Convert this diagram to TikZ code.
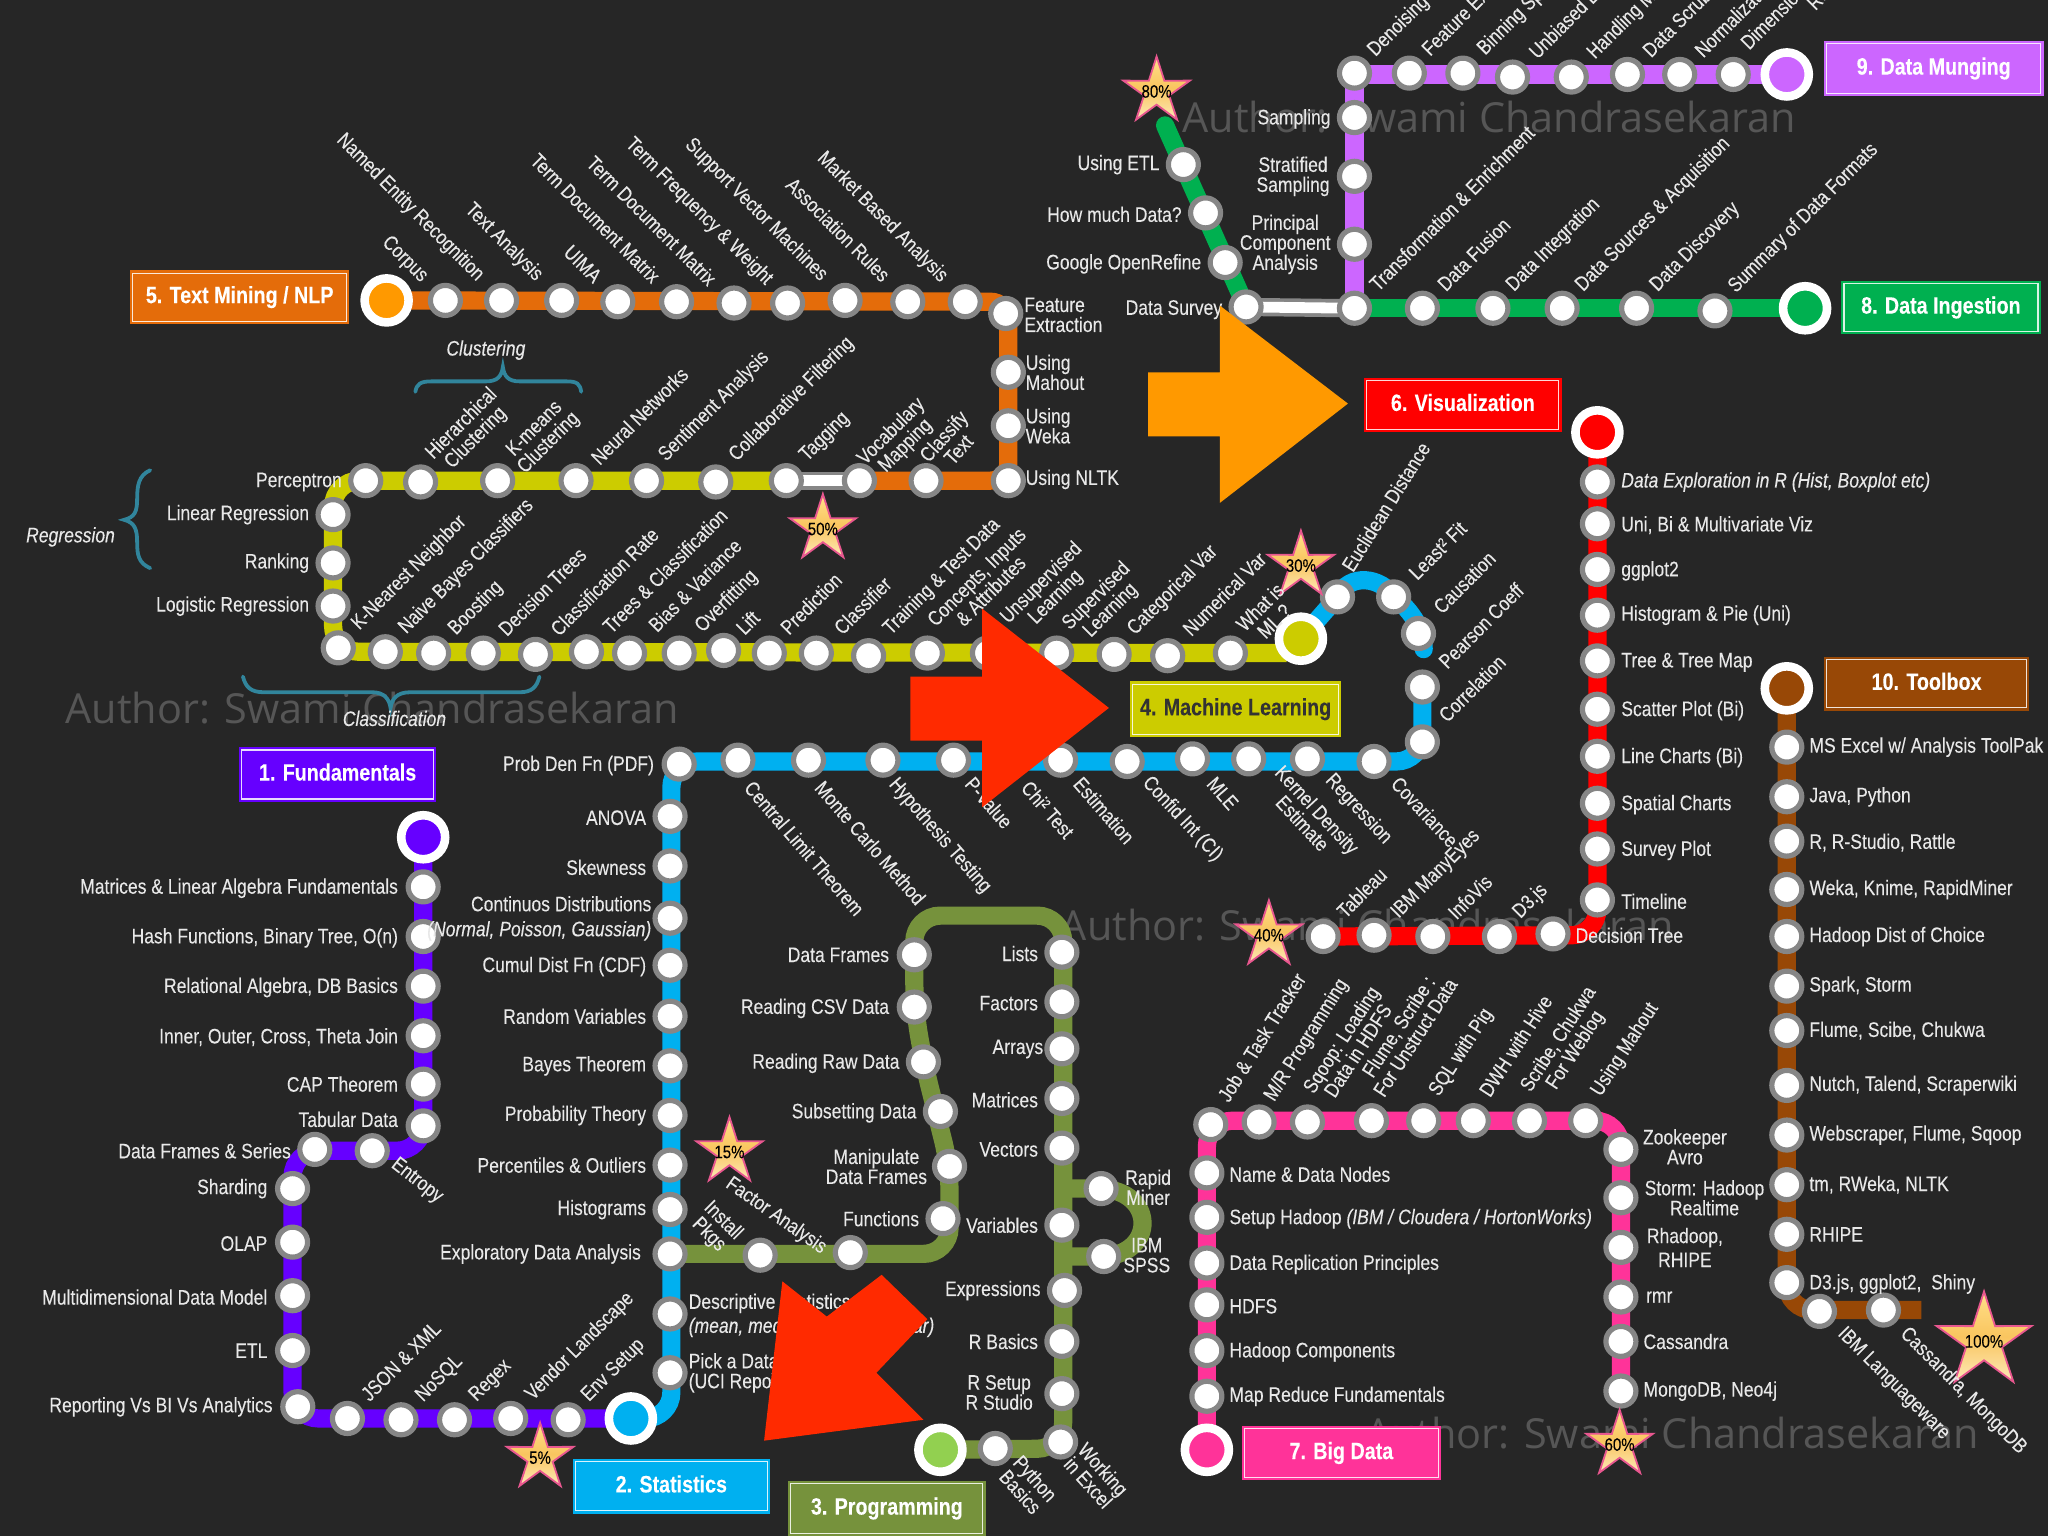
\documentclass[tikz,border=0pt]{standalone}
\usepackage{fontspec}
\setmainfont[FakeStretch=0.835,FakeBold=0.12]{Liberation Sans}
\newfontfamily\wmfont{Open Sans}
\usetikzlibrary{shapes.geometric,backgrounds}
\pgfdeclarelayer{wm}
\pgfdeclarelayer{rails}
\pgfsetlayers{wm,rails,main}
\definecolor{bgc}{HTML}{262626}
\definecolor{txtc}{HTML}{E8E8E8}
\definecolor{wmc}{HTML}{565656}
\definecolor{orangeL}{HTML}{E46C0A}
\definecolor{orangeT}{HTML}{FF9900}
\definecolor{yellowL}{HTML}{CCCC00}
\definecolor{blueL}{HTML}{00B0F0}
\definecolor{purpleL}{HTML}{6600FF}
\definecolor{oliveL}{HTML}{76923C}
\definecolor{oliveT}{HTML}{92D050}
\definecolor{greenL}{HTML}{00B050}
\definecolor{lilacL}{HTML}{CC66FF}
\definecolor{redL}{HTML}{FF0000}
\definecolor{pinkL}{HTML}{FF3399}
\definecolor{brownL}{HTML}{984806}
\definecolor{braceC}{HTML}{31859C}
\definecolor{arrowR}{HTML}{FF2A00}
\definecolor{starTop}{HTML}{FFE08A}
\definecolor{starMid}{HTML}{F9C55F}
\definecolor{starBot}{HTML}{FDE9B8}
\definecolor{starEdge}{HTML}{E8578F}
\newcounter{labc}
\tikzset{
  station/.style={circle,draw=gray!95,fill=white,line width=2.6pt,minimum size=15pt,inner sep=0pt},
  terminal/.style={circle,draw=white,fill=#1,line width=4.3pt,minimum size=22pt,inner sep=0pt},
  rail/.style={draw=#1,line width=9.1pt},
  linkO/.style={draw=gray!95,line width=9.1pt},
  linkI/.style={draw=white,line width=5.4pt},
  lab/.style={text=txtc,inner sep=0pt,font=\fontsize{10.5}{10}\selectfont,align=center},
  rlab/.style={lab,font=\fontsize{10.3}{10}\selectfont},
  lbox/.style={fill=#1,preaction={draw=#1,line width=2.8pt},draw=white!85!#1,line width=.6pt,text=white,inner sep=0pt,
    text height=8.5pt,text depth=2.5pt,font=\fontsize{11.8}{13}\selectfont\bfseries},
  pct/.style={star,star points=5,star point ratio=2.65,inner sep=0pt,draw=starEdge,line width=.9pt,
    top color=starTop,bottom color=starBot,middle color=starMid,minimum size=#1},
  pctt/.style={text=black,inner sep=0pt,font=\fontsize{9}{9}\selectfont},
  brace/.style={draw=braceC,line width=1.9pt,line cap=round},
  wmark/.style={text=wmc,inner sep=0pt,font=\wmfont\fontsize{20.7}{22}\selectfont}
}
\newcommand\labE[3]{\stepcounter{labc}\node[lab,anchor=east,align=right,yshift=-.7pt] (lab\thelabc) at (#1,#2) {#3};}
\newcommand\labW[3]{\stepcounter{labc}\node[lab,anchor=west,align=left,yshift=-.7pt] (lab\thelabc) at (#1,#2) {#3};}
\newcommand\labC[3]{\stepcounter{labc}\node[lab,yshift=-.7pt] (lab\thelabc) at (#1,#2) {#3};}
\newcommand\labR[4]{\stepcounter{labc}\node[rlab,anchor=west,rotate=#1] (lab\thelabc) at (#2,#3) {#4};}
\newcommand\labF[4]{\stepcounter{labc}\node[rlab,anchor=east,rotate=#1] (lab\thelabc) at (#2,#3) {#4};}
\newcommand\labM[4]{\stepcounter{labc}\node[rlab,rotate=#1] (lab\thelabc) at (#2,#3) {#4};}
\newcommand\pctstar[4]{\node[pct=#3] (star#4) at (#1,#2) {};\node[pctt] (startxt#4) at (#1,#2) {#4\%};}
\begin{document}
\begin{tikzpicture}[x=0.653061pt,y=-0.653061pt]
\useasboundingbox (0,0) rectangle (1568,1176);
\clip (0,0) rectangle (1568,1176);

% background and watermarks
\begin{pgfonlayer}{wm}
\fill[bgc] (0,0) rectangle (1568,1176);
\node[wmark,anchor=west] (wm1) at (905,90) {Author: Swami Chandrasekaran};
\node[wmark,anchor=west] (wm2) at (50,542) {Author: Swami Chandrasekaran};
\node[wmark,anchor=west] (wm3) at (812,708) {Author: Swami Chandrasekaran};
\node[wmark,anchor=west] (wm4) at (1045,1097) {Author: Swami Chandrasekaran};
\end{pgfonlayer}

% terminals
\node[terminal=purpleL] (T1) at (324,641) {};
\node[terminal=blueL] (T2) at (483,1086) {};
\node[terminal=oliveT] (T3) at (720,1110) {};
\node[terminal=yellowL] (T4) at (996,489) {};
\node[terminal=orangeT] (T5) at (296,230) {};
\node[terminal=redL] (T6) at (1223,331) {};
\node[terminal=pinkL] (T7) at (924,1110) {};
\node[terminal=greenL] (T8) at (1382,236) {};
\node[terminal=lilacL] (T9) at (1368,57) {};
\node[terminal=brownL] (T10) at (1368,527) {};

% stations
\foreach \n/\x/\y in {
 f1/324/679,f2/324/717,f3/324/755,f4/324/793,f5/324/830,f6/324/862,f7/285/881,f8/241/880,f9/224/910,f10/224/951,f11/224/992,f12/224/1034,f13/228/1077,f14/266/1086,f15/307/1087,f16/348/1087,f17/391/1086,f18/435/1087,
 s1/520/585,s2/565/582,s3/619/582,s4/676/582,s5/730/582,s6/812/582,s7/863/583,s8/913/581,s9/956/581,s10/1001/581,s11/1052/583,s12/1089/568,s13/1089/526,
 s20/513/625,s21/513/663,s22/513/703,s23/513/739,s24/513/778,s25/513/816,s26/513/854,s27/513/892,s28/513/926,s29/513/960,s30/513/1006,s31/513/1051,
 g1/582/961,g2/651/959,g3/722/933,g4/727/893,g5/720/851,g6/707/813,g7/700/771,g8/700/731,
 g9/813/729,g10/813/767,g11/813/803,g12/813/841,g13/813/879,g14/813/938,g15/815/988,g16/813/1027,g17/813/1067,g18/812/1104,g19/762/1109,g20/843/910,g21/845/962,
 o1/341/230,o2/384/230,o3/430/230,o4/473/231,o5/518/231,o6/562/232,o7/603/232,o8/647/230,o9/695/231,o10/739/231,o11/770/240,o12/772/285,o13/772/326,o14/772/368,o15/709/368,o16/658/368,
 y1/602/368,y2/548/369,y3/495/368,y4/441/368,y5/381/368,y6/322/369,y7/280/368,y8/255/394,y9/255/431,y10/255/464,y11/259/496,y12/295/499,y13/332/500,y14/370/500,y15/410/501,y16/449/499,y17/482/500,y18/520/500,y19/554/498,y20/589/500,y21/625/500,y22/665/502,y23/710/500,y24/756/500,y25/809/500,y26/853/501,y27/894/502,y28/942/500,
 b1/1024/457,b2/1067/457,b3/1086/485,
 r1/1223/369,r2/1223/401,r3/1223/436,r4/1223/471,r5/1223/506,r6/1223/543,r7/1223/579,r8/1223/615,r9/1223/650,r10/1223/689,r11/1189/715,r12/1148/717,r13/1097/717,r14/1052/716,r15/1013/717,
 p1/924/1069,p2/924/1034,p3/924/999,p4/924/967,p5/924/932,p6/924/898,p7/927/861,p8/964/859,p9/1001/859,p10/1050/858,p11/1090/858,p12/1128/858,p13/1171/858,p14/1214/858,p15/1241/880,p16/1241/917,p17/1241/955,p18/1241/993,p19/1241/1027,p20/1241/1065,
 t1/1368/572,t2/1368/610,t3/1368/644,t4/1368/681,t5/1368/717,t6/1368/755,t7/1368/789,t8/1368/831,t9/1368/869,t10/1368/907,t11/1368/945,t12/1368/982,t13/1393/1004,t14/1442/1003,
 i1/1313/238,i2/1253/236,i3/1196/236,i4/1143/236,i5/1089/236,i6/1037/236,i7/954/235,i8/938/201,i9/923/163,i10/906/126,
 m1/1327/57,m2/1286/57,m3/1246/57,m4/1203/59,m5/1158/59,m6/1120/56,m7/1079/56,m8/1037/56,m9/1037/90,m10/1037/135,m11/1037/187}
 {\node[station] (\n) at (\x,\y) {};}

% helper coordinates
\coordinate (oc) at (772,231);
\coordinate (yc1) at (255,368);
\coordinate (yc2) at (255,499);
\coordinate (ye) at (985,500);
\coordinate (be) at (1090,497);
\coordinate (bs) at (1089,522);
\coordinate (bc1) at (1089,583);
\coordinate (bc2) at (514,583);
\coordinate (bc3) at (514,1086);
\coordinate (fc1) at (324,881);
\coordinate (fc2) at (224,881);
\coordinate (fc3) at (224,1086);
\coordinate (gc1) at (727,960);
\coordinate (gc2) at (700,701);
\coordinate (gc3) at (814,701);
\coordinate (gc4) at (814,1109);
\coordinate (gj1) at (814,910);
\coordinate (gj2) at (814,962);
\coordinate (rc) at (1223,716);
\coordinate (pc1) at (924,858);
\coordinate (pc2) at (1241,858);
\coordinate (tc) at (1368,1003);
\coordinate (te) at (1471,1003);
\coordinate (ie) at (892,96);
\coordinate (mc) at (1037,57);

% rails
\begin{pgfonlayer}{rails}
\draw[rail=orangeL,rounded corners=9pt] (T5.center) -- (oc) -- (o14.center) -- (o16.center);
\draw[rail=yellowL,rounded corners=13pt] (y1.center) -- (yc1) -- (yc2) -- (ye);
\draw[rail=yellowL] (ye) -- (T4.center);
\draw[linkO] (y1.center) -- (o16.center);
\draw[linkI] (y1.center) -- (o16.center);
\draw[rail=blueL,line cap=round] (T4.center) -- (b1.center) .. controls (1033,438) and (1058,442) .. (b2.center) .. controls (1078,465) and (1090,480) .. (be);
\draw[rail=blueL,rounded corners=13pt] (bs) -- (bc1) -- (bc2) -- (bc3) -- (T2.center);
\draw[rail=purpleL,rounded corners=13pt] (T1.center) -- (fc1) -- (fc2) -- (fc3) -- (T2.center);
\draw[rail=oliveL,rounded corners=13pt] (s29.center) -- (gc1) -- (g4.center) -- (g6.center) -- (g7.center) -- (gc2) -- (gc3) -- (gc4) -- (T3.center);
\draw[rail=oliveL] (gj1) -- (g20.center) .. controls (885,912) and (885,960) .. (g21.center) -- (gj2);
\draw[rail=redL,rounded corners=13pt] (T6.center) -- (rc) -- (r15.center);
\draw[rail=pinkL,rounded corners=13pt] (T7.center) -- (pc1) -- (pc2) -- (p20.center);
\draw[rail=brownL,rounded corners=13pt] (T10.center) -- (tc) -- (te);
\draw[rail=greenL] (T8.center) -- (i6.center);
\draw[rail=greenL,line cap=round] (i7.center) -- (ie);
\draw[rail=lilacL] (T9.center) -- (mc) -- (i6.center);
\draw[linkO] (i7.center) -- (i6.center);
\draw[linkI] (i7.center) -- (i6.center);
\end{pgfonlayer}

% line boxes
\node[lbox=orangeL,minimum width=107pt,minimum height=24pt] (B5) at (183.5,227.5) {5. Text Mining / NLP};
\node[lbox=lilacL,minimum width=107pt,minimum height=25pt] (B9) at (1480.5,52.5) {9. Data Munging};
\node[lbox=greenL,minimum width=97pt,minimum height=24pt] (B8) at (1486,235.5) {8. Data Ingestion};
\node[lbox=redL,minimum width=96pt,minimum height=24.5pt] (B6) at (1120,310) {6. Visualization};
\node[lbox=yellowL,minimum width=103pt,minimum height=25pt,text=black!80] (B4) at (946,543) {4. Machine Learning};
\node[lbox=brownL,minimum width=100pt,minimum height=24pt] (B10) at (1475,523.5) {10. Toolbox};
\node[lbox=purpleL,minimum width=96pt,minimum height=24.5pt] (B1) at (258.5,593) {1. Fundamentals};
\node[lbox=blueL,minimum width=96pt,minimum height=24.5pt] (B2) at (514,1138) {2. Statistics};
\node[lbox=oliveL,minimum width=96pt,minimum height=25pt] (B3) at (679,1155) {3. Programming};
\node[lbox=pinkL,minimum width=97pt,minimum height=24.5pt] (B7) at (1027,1112.5) {7. Big Data};

% stars
\pctstar{885.5}{70}{35pt}{80}
\pctstar{630}{405}{35pt}{50}
\pctstar{996}{433}{35pt}{30}
\pctstar{558.5}{882}{35pt}{15}
\pctstar{413.5}{1116}{35pt}{5}
\pctstar{971.5}{716}{35pt}{40}
\pctstar{1240}{1106}{35pt}{60}
\pctstar{1519}{1027}{50pt}{100}

% braces
\draw[brace] (115,360) .. controls (106,364) and (105,372) .. (105,382) .. controls (105,392) and (103,396) .. (95,398) .. controls (103,400) and (105,405) .. (105,415) .. controls (105,425) and (106,431) .. (115,435);
\draw[brace] (318,300) .. controls (319,294) and (322,292) .. (330,292) -- (372,292) .. controls (381,292) and (384,288) .. (385,281) .. controls (386,288) and (389,292) .. (398,292) -- (434,292) .. controls (442,292) and (444,294) .. (445,300);
\draw[brace] (186,518) .. controls (188,526) and (192,530) .. (202,530) -- (285,530) .. controls (294,530) and (298,535) .. (299,542) .. controls (300,535) and (304,530) .. (314,530) -- (398,530) .. controls (407,530) and (411,526) .. (413,518);

% labels: fundamentals
\labE{305}{679}{Matrices \& Linear Algebra Fundamentals}
\labE{305}{717}{Hash Functions, Binary Tree, O(n)}
\labE{305}{755}{Relational Algebra, DB Basics}
\labE{305}{793}{Inner, Outer, Cross, Theta Join}
\labE{305}{829}{CAP Theorem}
\labE{305}{856}{Tabular Data}
\labE{223}{880}{Data Frames \& Series}
\labE{205}{909}{Sharding}
\labE{205}{951}{OLAP}
\labE{205}{992}{Multidimensional Data Model}
\labE{205}{1033}{ETL}
\labE{209}{1076}{Reporting Vs BI Vs Analytics}
\labR{-38}{301}{890}{Entropy}
\labR{45}{279}{1070}{JSON \& XML}
\labR{45}{321}{1071}{NoSQL}
\labR{45}{362}{1071}{Regex}
\labR{45}{405}{1070}{Vendor Landscape}
\labR{45}{448}{1071}{Env Setup}
% statistics
\labE{501}{585}{Prob Den Fn (PDF)}
\labE{495}{625}{ANOVA}
\labE{495}{663}{Skewness}
\labE{499}{702}{Continuos Distributions\\[2.5pt]\textit{(Normal, Poisson, Gaussian)}}
\labE{495}{739}{Cumul Dist Fn (CDF)}
\labE{495}{777}{Random Variables}
\labE{495}{815}{Bayes Theorem}
\labE{495}{853}{Probability Theory}
\labE{495}{891}{Percentiles \& Outliers}
\labE{495}{925}{Histograms}
\labE{491}{959}{Exploratory Data Analysis}
\labW{527}{1006}{Descriptive Statistics\\[2pt]\textit{(mean, median, range, SD, var)}}
\labW{527}{1050}{Pick a Dataset\\(UCI Repo)}
\labR{-49}{573}{600}{Central Limit Theorem}
\labR{-49}{627}{600}{Monte Carlo Method}
\labR{-49}{683}{598}{Hypothesis Testing}
\labR{-49}{742}{597}{P-Value}
\labR{-49}{785}{600}{Chi² Test}
\labR{-49}{825}{597}{Estimation}
\labR{-47}{877}{597}{Confid Int (CI)}
\labR{-49}{927}{597}{MLE}
\labM{-47}{1003}{625}{Kernel Density\\Estimate}
\labR{-47}{1017}{595}{Regression}
\labR{-47}{1068}{597}{Covariance}
% programming
\labE{681}{730}{Data Frames}
\labE{681}{771}{Reading CSV Data}
\labE{689}{813}{Reading Raw Data}
\labE{702}{851}{Subsetting Data}
\labC{671}{892}{Manipulate\\Data Frames}
\labE{704}{932}{Functions}
\labE{795}{729}{Lists}
\labE{795}{767}{Factors}
\labE{799}{802}{Arrays}
\labE{795}{841}{Matrices}
\labE{795}{879}{Vectors}
\labE{795}{937}{Variables}
\labE{797}{987}{Expressions}
\labE{795}{1026}{R Basics}
\labC{765}{1065}{R Setup\\R Studio}
\labC{879}{908}{Rapid\\Miner}
\labC{878}{960}{IBM\\SPSS}
\labM{-45}{548}{940}{Install\\Pkgs}
\labR{-35}{557}{905}{Factor Analysis}
\labM{-48}{787}{1137}{Python\\Basics}
\labM{-48}{839}{1130}{Working\\in Excel}
% text mining
\labF{-45}{325}{214}{Corpus}
\labF{-45}{368}{213}{Named Entity Recognition}
\labF{-45}{413}{213}{Text Analysis}
\labF{-45}{458}{214}{UIMA}
\labF{-45}{503}{214}{Term Document Matrix}
\labF{-45}{546}{216}{Term Document Matrix}
\labF{-45}{589}{216}{Term Frequency \& Weight}
\labF{-45}{631}{213}{Support Vector Machines}
\labF{-45}{679}{213}{Association Rules}
\labF{-45}{723}{214}{Market Based Analysis}
\labW{784}{240}{Feature\\Extraction}
\labW{785}{284}{Using\\Mahout}
\labW{785}{325}{Using\\Weka}
\labW{785}{366}{Using NLTK}
% upper yellow
\labM{45}{359}{330}{Hierarchical\\Clustering}
\labM{45}{415}{334}{K-means\\Clustering}
\labR{45}{455}{353}{Neural Networks}
\labR{45}{507}{351}{Sentiment Analysis}
\labR{45}{561}{351}{Collaborative Filtering}
\labR{45}{615}{351}{Tagging}
\labM{45}{688}{336}{Vocabulary\\Mapping}
\labM{48}{728}{339}{Classify\\Text}
\labE{262}{368}{Perceptron}
\labE{237}{393}{Linear Regression}
\labE{237}{430}{Ranking}
\labE{237}{463}{Logistic Regression}
\labC{54}{410}{\textit{Regression}}
\labC{372}{267}{\textit{Clustering}}
\labC{302}{549}{\textit{Classification}}
% lower yellow
\labR{45}{272}{480}{K-Nearest Neighbor}
\labR{45}{308}{483}{Naive Bayes Classifiers}
\labR{45}{346}{484}{Boosting}
\labR{45}{384}{484}{Decision Trees}
\labR{45}{424}{484}{Classification Rate}
\labR{45}{464}{482}{Trees \& Classification}
\labR{45}{499}{481}{Bias \& Variance}
\labR{45}{535}{482}{Overfitting}
\labR{45}{566}{483}{Lift}
\labR{45}{600}{483}{Prediction}
\labR{45}{641}{483}{Classifier}
\labR{45}{679}{484}{Training \& Test Data}
\labM{45}{753}{447}{Concepts, Inputs\\\& Attributes}
\labM{45}{803}{452}{Unsupervised\\Learning}
\labM{45}{845}{462}{Supervised\\Learning}
\labR{45}{866}{484}{Categorical Var}
\labR{45}{908}{484}{Numerical Var}
\labM{45}{970}{470}{What is\\ML ?}
\labR{58}{1031}{436}{Euclidean Distance}
\labR{45}{1081}{441}{Least² Fit}
\labR{45}{1100}{467}{Causation}
\labR{45}{1104}{509}{Pearson Coeff}
\labR{45}{1104}{550}{Correlation}
% ingestion
\labE{936}{236}{Data Survey}
\labE{888}{125}{Using ETL}
\labE{905}{163}{How much Data?}
\labE{920}{201}{Google OpenRefine}
\labE{1019}{90}{Sampling}
\labC{990}{134}{Stratified\\Sampling}
\labC{984}{186}{Principal\\Component\\Analysis}
\labR{45}{1051}{220}{Transformation \& Enrichment}
\labR{45}{1103}{220}{Data Fusion}
\labR{45}{1156}{221}{Data Integration}
\labR{45}{1209}{221}{Data Sources \& Acquisition}
\labR{45}{1266}{221}{Data Discovery}
\labR{45}{1326}{222}{Summary of Data Formats}
\labR{45}{1050}{41}{Denoising}
\labR{45}{1091}{40}{Feature Ex}
\labR{45}{1134}{40}{Binning Sp}
\labR{45}{1173}{42}{Unbiased E}
\labR{45}{1218}{43}{Handling M}
\labR{45}{1260}{41}{Data Scrub}
\labR{45}{1300}{41}{Normalizati}
\labR{45}{1335}{35}{Dimensio}
\labR{45}{1386}{5}{Re}
% visualization
\labW{1241}{368}{\textit{Data Exploration in R (Hist, Boxplot etc)}}
\labW{1241}{401}{Uni, Bi \& Multivariate Viz}
\labW{1241}{436}{ggplot2}
\labW{1241}{470}{Histogram \& Pie (Uni)}
\labW{1241}{506}{Tree \& Tree Map}
\labW{1241}{543}{Scatter Plot (Bi)}
\labW{1241}{579}{Line Charts (Bi)}
\labW{1241}{615}{Spatial Charts}
\labW{1241}{650}{Survey Plot}
\labW{1241}{689}{Timeline}
\labW{1206}{715}{Decision Tree}
\labR{45}{1026}{700}{Tableau}
\labR{45}{1068}{701}{IBM ManyEyes}
\labR{45}{1111}{701}{InfoVis}
\labR{45}{1161}{701}{D3.js}
% toolbox
\labW{1385}{571}{MS Excel w/ Analysis ToolPak}
\labW{1385}{609}{Java, Python}
\labW{1385}{644}{R, R-Studio, Rattle}
\labW{1385}{680}{Weka, Knime, RapidMiner}
\labW{1385}{716}{Hadoop Dist of Choice}
\labW{1385}{754}{Spark, Storm}
\labW{1385}{788}{Flume, Scibe, Chukwa}
\labW{1385}{830}{Nutch, Talend, Scraperwiki}
\labW{1385}{868}{Webscraper, Flume, Sqoop}
\labW{1385}{906}{tm, RWeka, NLTK}
\labW{1385}{944}{RHIPE}
\labW{1385}{982}{D3.js, ggplot2,\ \ Shiny}
\labR{-45}{1409}{1019}{IBM Languageware}
\labR{-45}{1457}{1019}{Cassandra, MongoDB}
% big data
\labW{941}{898}{Name \& Data Nodes}
\labW{941}{932}{Setup Hadoop \textit{(IBM / Cloudera / HortonWorks)}}
\labW{941}{967}{Data Replication Principles}
\labW{941}{999}{HDFS}
\labW{941}{1034}{Hadoop Components}
\labW{941}{1068}{Map Reduce Fundamentals}
\labR{58}{936}{842}{Job \& Task Tracker}
\labR{58}{972}{842}{M/R Programming}
\labM{57}{1033}{800}{Sqoop: Loading\\Data in HDFS}
\labM{57}{1077}{790}{Flume, Scribe :\\For Unstruct Data}
\labR{57}{1098}{838}{SQL with Pig}
\labR{57}{1136}{838}{DWH with Hive}
\labM{57}{1200}{800}{Scribe, Chukwa\\For Weblog}
\labR{57}{1222}{838}{Using Mahout}
\labC{1290}{877}{Zookeeper\\Avro}
\labC{1305}{916}{Storm: Hadoop\\Realtime}
\labC{1290}{954}{Rhadoop,\\[2pt]RHIPE}
\labW{1260}{992}{rmr}
\labW{1258}{1026}{Cassandra}
\labW{1258}{1064}{MongoDB, Neo4j}

% attention arrows
\fill[orangeT] (879,285) -- (934,285) -- (934,234) -- (1032,309) -- (934,385) -- (934,334) -- (879,334) -- cycle;
\fill[arrowR] (697,518) -- (752,518) -- (752,466) -- (849,542) -- (752,618) -- (752,567) -- (697,567) -- cycle;
\fill[arrowR] (585,1103) -- (599,981) -- (633,1008) -- (675,976) -- (710,1010) -- (671,1051) -- (707,1087) -- cycle;
\end{tikzpicture}
\end{document}
